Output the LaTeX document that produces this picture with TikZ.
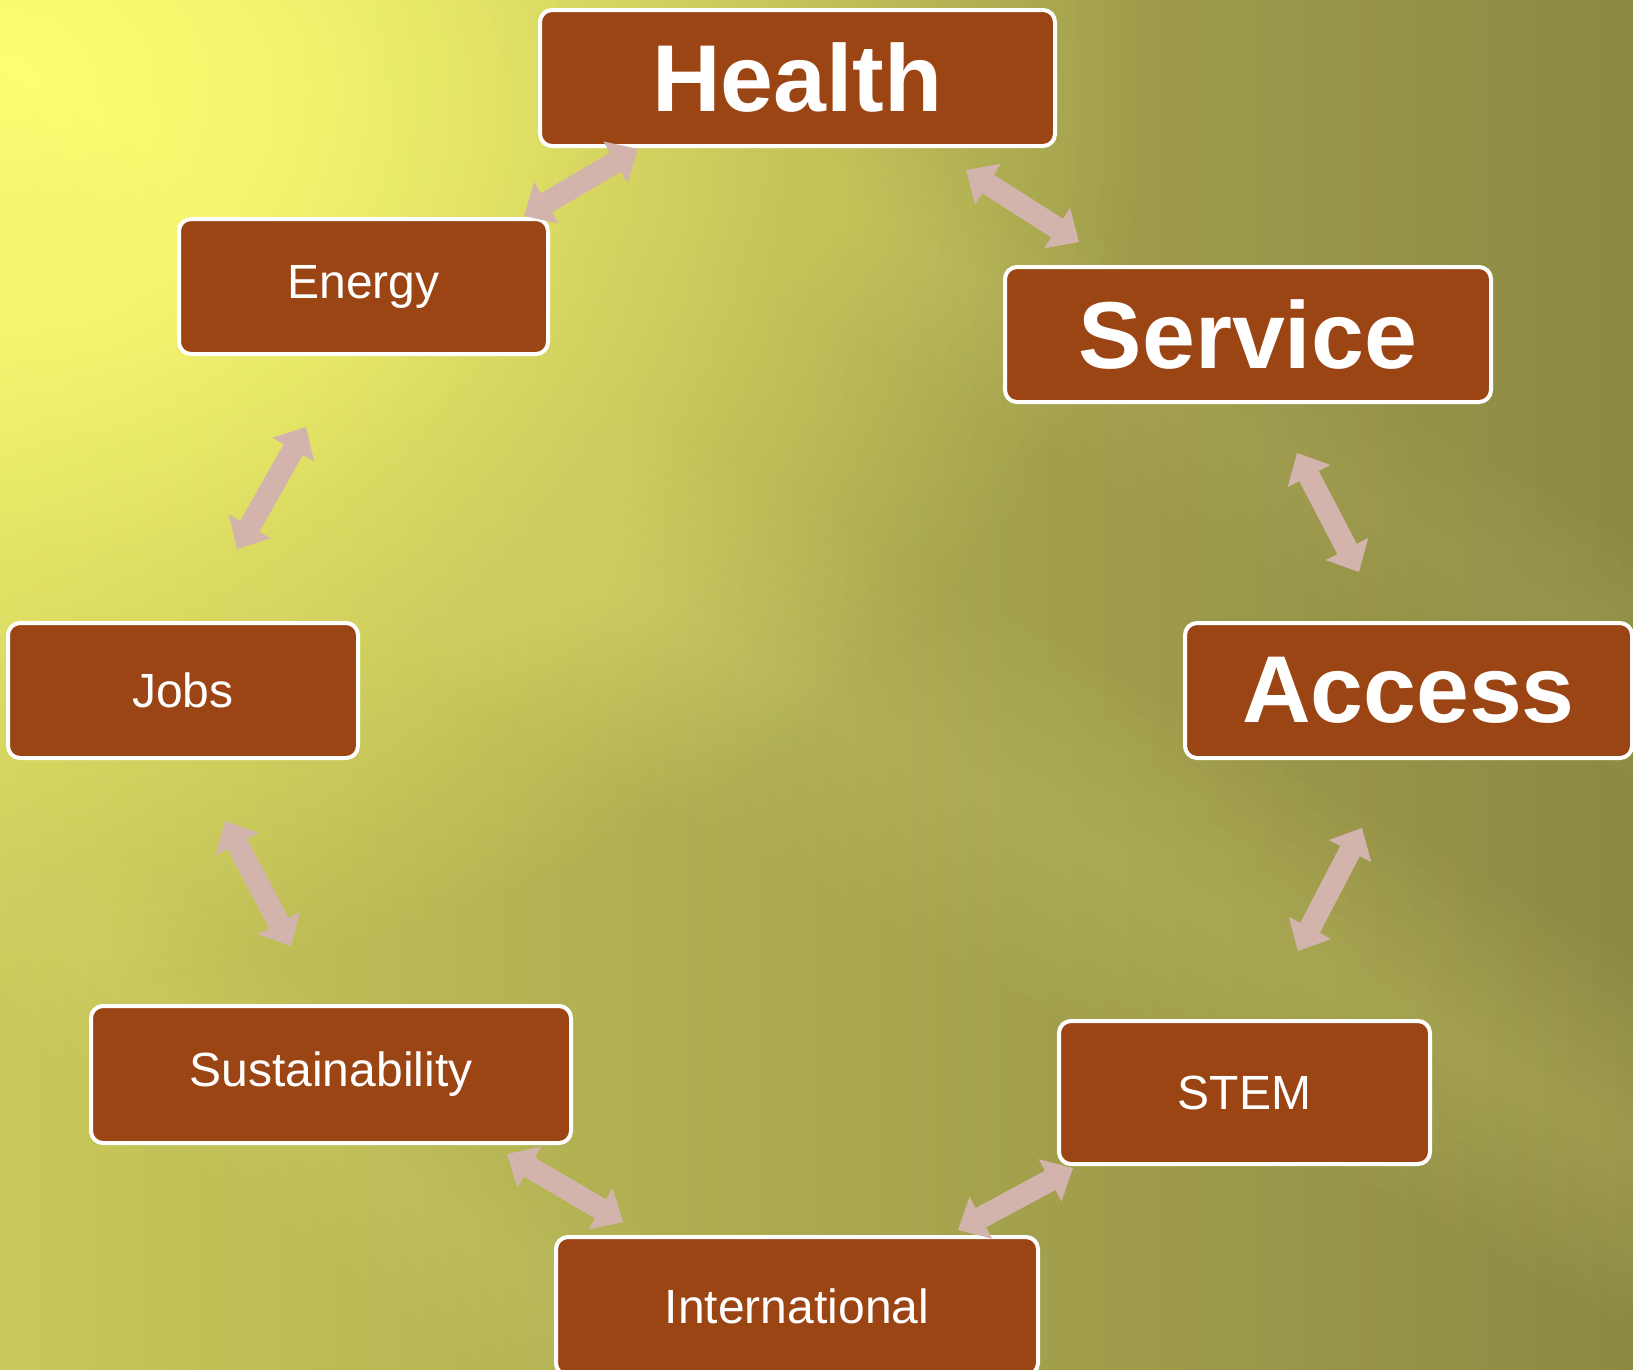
\documentclass[tikz,border=0pt]{standalone}
\usepackage{fontspec}
\setmainfont{Liberation Sans}
\usetikzlibrary{arrows.meta,calc,fadings}
\definecolor{boxc}{HTML}{9C4514}
\definecolor{arrc}{HTML}{D3B4AC}
\definecolor{glowc}{HTML}{FFFF73}
\definecolor{streakc}{HTML}{F6F68A}
\definecolor{bgl}{HTML}{C8C85A}
\definecolor{bgr}{HTML}{8C8944}
\tikzfading[name=glowfade, inner color=transparent!0, outer color=transparent!100]
\begin{document}
\begin{tikzpicture}[x=1pt,y=-1pt,
  box/.style={draw=white, line width=4pt, fill=boxc, rounded corners=12pt, text=white, inner sep=0pt, align=center},
  bigtxt/.style={font=\fontsize{95}{95}\selectfont\bfseries},
  smalltxt/.style={font=\fontsize{48}{48}\selectfont},
  link/.style={draw=arrc, line width=22pt,
    {Triangle[width=48pt,length=26pt,line width=0pt]}-{Triangle[width=48pt,length=26pt,line width=0pt]}}]
% background
\useasboundingbox (0,0) rectangle (1633,1369);
\begin{scope}
\clip (0,0) rectangle (1633,1369);
\shade[left color=bgl, right color=bgr] (0,0) rectangle (1633,1369);
\fill[glowc, path fading=glowfade] (0,90) ellipse (1150 and 900);
\fill[glowc, path fading=glowfade, opacity=0.6] (0,120) ellipse (600 and 450);
% soft light diagonal streaks
\coordinate (s1a) at (-100,200);
\coordinate (s1b) at (1700,1180);
\foreach \w in {20,40,...,160}
  \fill[streakc, opacity=0.025] ($(s1a)!\w pt!90:(s1b)$) -- ($(s1b)!\w pt!-90:(s1a)$) -- ($(s1b)!\w pt!90:(s1a)$) -- ($(s1a)!\w pt!-90:(s1b)$) -- cycle;
\coordinate (s2a) at (-100,820);
\coordinate (s2b) at (700,1400);
\foreach \w in {20,40,...,100}
  \fill[streakc, opacity=0.025] ($(s2a)!\w pt!90:(s2b)$) -- ($(s2b)!\w pt!-90:(s2a)$) -- ($(s2b)!\w pt!90:(s2a)$) -- ($(s2a)!\w pt!-90:(s2b)$) -- cycle;
\coordinate (s3a) at (300,-100);
\coordinate (s3b) at (1700,700);
\foreach \w in {20,40,...,100}
  \fill[streakc, opacity=0.02] ($(s3a)!\w pt!90:(s3b)$) -- ($(s3b)!\w pt!-90:(s3a)$) -- ($(s3b)!\w pt!90:(s3a)$) -- ($(s3a)!\w pt!-90:(s3b)$) -- cycle;
\end{scope}
% boxes
\node[box, bigtxt, minimum width=515pt, minimum height=136pt] (health) at (797.5,78) {Health};
\node[box, smalltxt, minimum width=369pt, minimum height=135pt] (energy) at (363.5,286.5) {Energy};
\node[box, bigtxt, minimum width=486pt, minimum height=135pt] (service) at (1248,334.5) {Service};
\node[box, smalltxt, minimum width=350pt, minimum height=135pt] (jobs) at (183,690.5) {Jobs};
\node[box, bigtxt, minimum width=447pt, minimum height=135pt] (access) at (1408.5,690.5) {Access};
\node[box, smalltxt, minimum width=480pt, minimum height=137pt] (sust) at (331,1074.5) {Sustainability};
\node[box, smalltxt, minimum width=371pt, minimum height=143pt] (stem) at (1244.5,1092.5) {STEM};
\node[box, smalltxt, minimum width=482pt, minimum height=138pt] (intl) at (797,1306) {International};
% connector end points
\coordinate (he1) at (524,216);   \coordinate (he2) at (638,149);
\coordinate (hs1) at (966,170);   \coordinate (hs2) at (1079,242);
\coordinate (ej1) at (306,427);   \coordinate (ej2) at (237,549);
\coordinate (sa1) at (1297,453);  \coordinate (sa2) at (1359,572);
\coordinate (js1) at (225,821);   \coordinate (js2) at (291,946);
\coordinate (as1) at (1362,828);  \coordinate (as2) at (1298,951);
\coordinate (si1) at (507,1154);  \coordinate (si2) at (623,1222);
\coordinate (ti1) at (1073,1168); \coordinate (ti2) at (958,1230);
% connectors
\draw[link] (he1) -- (he2);
\draw[link] (hs1) -- (hs2);
\draw[link] (ej1) -- (ej2);
\draw[link] (sa1) -- (sa2);
\draw[link] (js1) -- (js2);
\draw[link] (as1) -- (as2);
\draw[link] (si1) -- (si2);
\draw[link] (ti1) -- (ti2);
\end{tikzpicture}
\end{document}
